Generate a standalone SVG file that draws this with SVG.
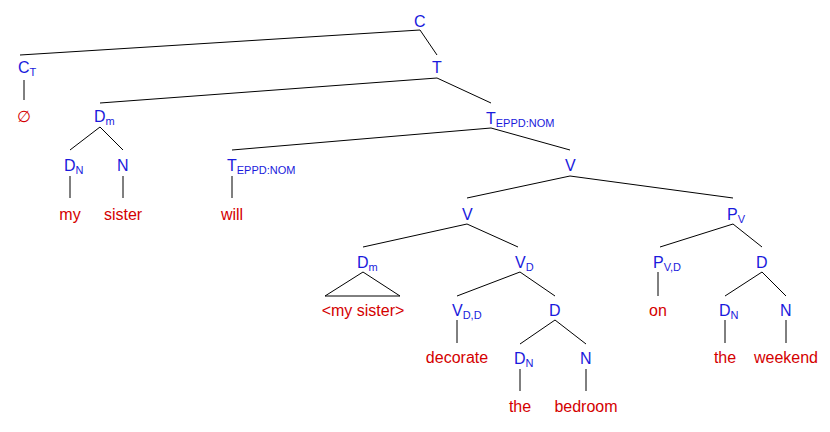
<svg xmlns="http://www.w3.org/2000/svg" width="830" height="432" viewBox="0 0 830 432">
<style>
.n{font-family:"Liberation Sans",Arial,sans-serif;font-size:16px;fill:#1a1adc}
.s{font-size:11px}
.w{font-family:"Liberation Sans",Arial,sans-serif;font-size:16px;fill:#d40000;text-anchor:middle}
line,polygon{stroke:#000;stroke-width:1;fill:none}
</style>
<rect width="830" height="432" fill="#fff"/>
<g id="connectors">
<line x1="420" y1="30" x2="20" y2="55"/><line x1="420" y1="30" x2="437" y2="55"/>
<line x1="24" y1="80" x2="24" y2="100"/>
<line x1="437" y1="78" x2="100" y2="103"/><line x1="437" y1="78" x2="491" y2="103"/>
<line x1="100" y1="127" x2="70" y2="150"/><line x1="100" y1="127" x2="123" y2="150"/>
<line x1="70" y1="176" x2="70" y2="198"/><line x1="123" y1="176" x2="123" y2="198"/>
<line x1="491" y1="128" x2="232" y2="150"/><line x1="491" y1="128" x2="570" y2="150"/>
<line x1="232" y1="176" x2="232" y2="198"/>
<line x1="570" y1="176" x2="467" y2="198"/><line x1="570" y1="176" x2="733" y2="198"/>
<line x1="467" y1="224" x2="363" y2="247"/><line x1="467" y1="224" x2="518" y2="247"/>
<polygon points="363,272 325,296 400,296"/>
<line x1="520" y1="272" x2="457" y2="296"/><line x1="520" y1="272" x2="555" y2="296"/>
<line x1="457" y1="320" x2="457" y2="343"/>
<line x1="555" y1="320" x2="520" y2="344"/><line x1="555" y1="320" x2="586" y2="344"/>
<line x1="520" y1="369" x2="520" y2="391"/><line x1="586" y1="369" x2="586" y2="391"/>
<line x1="733" y1="224" x2="660" y2="247"/><line x1="733" y1="224" x2="762" y2="247"/>
<line x1="658" y1="272" x2="658" y2="296"/>
<line x1="762" y1="272" x2="725" y2="296"/><line x1="762" y1="272" x2="786" y2="296"/>
<line x1="725" y1="320" x2="725" y2="343"/><line x1="786" y1="320" x2="786" y2="343"/>
</g>
<g id="C"><text class="n" x="414" y="27">C</text></g>
<g id="CT"><text class="n" x="18" y="73">C<tspan class="s" dy="3">T</tspan></text></g>
<g id="null"><text class="w" x="24" y="122">∅</text></g>
<g id="T"><text class="n" x="432" y="73">T</text></g>
<g id="Dm"><text class="n" x="94" y="122">D<tspan class="s" dy="3">m</tspan></text></g>
<g id="TEPPD1"><text class="n" x="486" y="124">T<tspan class="s" dy="3">EPPD:NOM</tspan></text></g>
<g id="DN1"><text class="n" x="64" y="171">D<tspan class="s" dy="3">N</tspan></text></g>
<g id="N1"><text class="n" x="117" y="171">N</text></g>
<g id="TEPPD2"><text class="n" x="227" y="171">T<tspan class="s" dy="3">EPPD:NOM</tspan></text></g>
<g id="V1"><text class="n" x="565" y="171">V</text></g>
<g id="my"><text class="w" x="70" y="220">my</text></g>
<g id="sister"><text class="w" x="123" y="220">sister</text></g>
<g id="will"><text class="w" x="232" y="220">will</text></g>
<g id="V2"><text class="n" x="462" y="220">V</text></g>
<g id="PV"><text class="n" x="727" y="220">P<tspan class="s" dy="3">V</tspan></text></g>
<g id="Dm2"><text class="n" x="357" y="268">D<tspan class="s" dy="3">m</tspan></text></g>
<g id="VD"><text class="n" x="515" y="268">V<tspan class="s" dy="3">D</tspan></text></g>
<g id="PVD"><text class="n" x="653" y="268">P<tspan class="s" dy="3">V,D</tspan></text></g>
<g id="D2"><text class="n" x="756" y="268">D</text></g>
<g id="mysister"><text class="w" x="363" y="316">&lt;my sister&gt;</text></g>
<g id="VDD"><text class="n" x="452" y="316">V<tspan class="s" dy="3">D,D</tspan></text></g>
<g id="D1"><text class="n" x="549" y="316">D</text></g>
<g id="on"><text class="w" x="658" y="316">on</text></g>
<g id="DN3"><text class="n" x="719" y="316">D<tspan class="s" dy="3">N</tspan></text></g>
<g id="N3"><text class="n" x="780" y="316">N</text></g>
<g id="decorate"><text class="w" x="457" y="363">decorate</text></g>
<g id="DN2"><text class="n" x="514" y="364">D<tspan class="s" dy="3">N</tspan></text></g>
<g id="N2"><text class="n" x="580" y="364">N</text></g>
<g id="the2"><text class="w" x="725" y="363">the</text></g>
<g id="weekend"><text class="w" x="786" y="363">weekend</text></g>
<g id="the1"><text class="w" x="520" y="412">the</text></g>
<g id="bedroom"><text class="w" x="586" y="412">bedroom</text></g>
</svg>
